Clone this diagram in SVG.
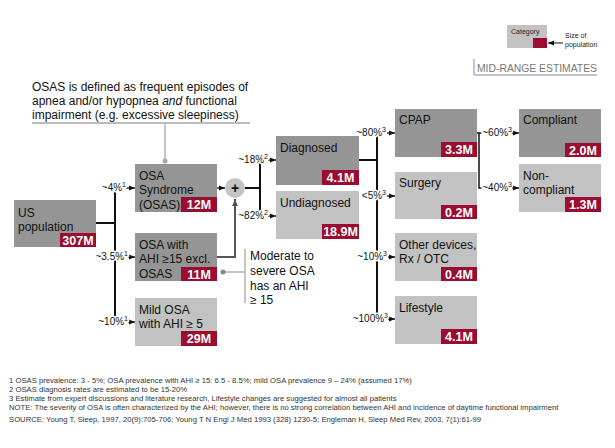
<svg xmlns="http://www.w3.org/2000/svg" width="615" height="448" viewBox="0 0 615 448">
<style>
text{font-family:"Liberation Sans",Arial,sans-serif;}
.dk{fill:#959595;}
.lt{fill:#c2c2c2;}
.rd{fill:#9b0c30;}
.t{font-size:12px;fill:#111;}
.n{font-size:12.5px;font-weight:bold;fill:#fff;text-anchor:middle;}
.pct{font-size:10px;fill:#111;text-anchor:end;stroke:#fff;stroke-width:3px;paint-order:stroke;stroke-linejoin:round;}
.bus{stroke:#111;stroke-width:2;fill:none;}
.arr{stroke:#111;stroke-width:1.3;fill:none;marker-end:url(#ah);}
.gl{stroke:#a6a6a6;stroke-width:1.3;fill:none;}
.fn{font-size:7.7px;fill:#333;}
.sup{font-size:7px;}
</style>
<defs>
<marker id="ah" viewBox="0 0 6 6" refX="6" refY="3" markerWidth="6" markerHeight="6" markerUnits="userSpaceOnUse" orient="auto"><path d="M0,0.5 L6,3 L0,5.5 z" fill="#111"/></marker>
<marker id="ahg" viewBox="0 0 6 6" refX="6" refY="3" markerWidth="7" markerHeight="7" markerUnits="userSpaceOnUse" orient="auto"><path d="M0,0.5 L6,3 L0,5.5 z" fill="#555"/></marker>
</defs>

<g id="legend">
<rect x="507" y="25" width="40" height="23" class="lt"/>
<rect x="533" y="38" width="14" height="10" class="rd"/>
<text x="511" y="34" font-size="7" fill="#222">Category</text>
<line x1="563" y1="43" x2="548" y2="43" stroke="#111" stroke-width="1" marker-end="url(#ah)"/>
<text x="565" y="38" font-size="7" fill="#222">Size of</text>
<text x="565" y="47" font-size="7" fill="#222">population</text>
<path d="M474,59 V75 H597" stroke="#888" stroke-width="1" fill="none"/>
<text x="477" y="72" font-size="10.5" fill="#777" textLength="120" lengthAdjust="spacingAndGlyphs">MID-RANGE ESTIMATES</text>
</g>

<g id="definition-note">
<text x="32" y="91" class="t">OSAS is defined as frequent episodes of</text>
<text x="32" y="105" class="t">apnea and/or hypopnea <tspan font-style="italic">and</tspan> functional</text>
<text x="32" y="119" class="t">impairment (e.g. excessive sleepiness)</text>
<line x1="32" y1="123" x2="250" y2="123" class="gl"/>
<line x1="165" y1="123" x2="165" y2="160" class="gl"/>
<circle cx="165" cy="161" r="2.5" fill="#a6a6a6"/>
</g>

<g id="connectors">
<line x1="96" y1="223" x2="115" y2="223" class="bus"/>
<line x1="115" y1="186" x2="115" y2="322" class="bus"/>
<line x1="126" y1="188" x2="135" y2="188" class="arr"/>
<line x1="128" y1="257" x2="135" y2="257" class="arr"/>
<line x1="128" y1="322" x2="135" y2="322" class="arr"/>
<text x="126" y="191" class="pct">~4%<tspan class="sup" dy="-4">1</tspan></text>
<text x="128" y="260" class="pct">~3.5%<tspan class="sup" dy="-4">1</tspan></text>
<text x="128" y="325" class="pct">~10%<tspan class="sup" dy="-4">1</tspan></text>
<line x1="217" y1="188" x2="225" y2="188" class="arr"/>
<path d="M217,257 H235 V199" stroke="#555" stroke-width="2" fill="none" marker-end="url(#ahg)"/>
<line x1="245" y1="188" x2="260" y2="188" class="bus"/>
<line x1="260" y1="158" x2="260" y2="216" class="bus"/>
<line x1="268" y1="160" x2="276" y2="160" class="arr"/>
<line x1="268" y1="216" x2="276" y2="216" class="arr"/>
<text x="268" y="163" class="pct">~18%<tspan class="sup" dy="-4">2</tspan></text>
<text x="268" y="219" class="pct">~82%<tspan class="sup" dy="-4">2</tspan></text>
<line x1="359" y1="160" x2="377" y2="160" class="bus"/>
<line x1="377" y1="131" x2="377" y2="319" class="bus"/>
<line x1="387" y1="133" x2="395" y2="133" class="arr"/>
<line x1="387" y1="196" x2="395" y2="196" class="arr"/>
<line x1="388" y1="257" x2="395" y2="257" class="arr"/>
<line x1="388" y1="319" x2="395" y2="319" class="arr"/>
<text x="386" y="136" class="pct">~80%<tspan class="sup" dy="-4">3</tspan></text>
<text x="386" y="199" class="pct">&lt;5%<tspan class="sup" dy="-4">3</tspan></text>
<text x="387" y="260" class="pct">~10%<tspan class="sup" dy="-4">3</tspan></text>
<text x="388" y="322" class="pct">~100%<tspan class="sup" dy="-4">3</tspan></text>
<path d="M477,133 H483 M479,133 V188 H483" stroke="#111" stroke-width="1.5" fill="none"/>
<line x1="512" y1="133" x2="519" y2="133" class="arr"/>
<line x1="512" y1="188" x2="519" y2="188" class="arr"/>
<text x="512" y="136" class="pct">~60%<tspan class="sup" dy="-4">3</tspan></text>
<text x="512" y="191" class="pct">~40%<tspan class="sup" dy="-4">3</tspan></text>
</g>

<g id="plus">
<circle cx="235" cy="188" r="10" fill="#c4c4c4"/>
<text x="235" y="193" font-size="14" font-weight="bold" fill="#111" text-anchor="middle">+</text>
</g>

<g id="us-population">
<rect x="14" y="200" width="82" height="47" class="dk"/>
<text x="18" y="217" class="t">US</text>
<text x="18" y="231" class="t">population</text>
<rect x="60" y="233" width="36" height="14" class="rd"/>
<text x="78" y="245" class="n">307M</text>
</g>

<g id="osas">
<rect x="135" y="164" width="82" height="48" class="dk"/>
<text x="139" y="180" class="t">OSA</text>
<text x="139" y="194" class="t">Syndrome</text>
<text x="139" y="209" class="t">(OSAS)</text>
<rect x="181" y="197" width="36" height="15" class="rd"/>
<text x="199" y="209" class="n">12M</text>
</g>

<g id="osa-ahi15">
<rect x="135" y="233" width="82" height="48" class="dk"/>
<text x="139" y="249" class="t">OSA with</text>
<text x="139" y="263" class="t">AHI ≥15 excl.</text>
<text x="139" y="278" class="t">OSAS</text>
<rect x="181" y="267" width="36" height="14" class="rd"/>
<text x="199" y="279" class="n">11M</text>
</g>

<g id="moderate-note">
<line x1="223" y1="272" x2="245" y2="272" class="gl"/>
<circle cx="223" cy="272" r="2.5" fill="#888"/>
<line x1="245" y1="249" x2="245" y2="303" class="gl"/>
<text x="250" y="260" class="t">Moderate to</text>
<text x="250" y="275" class="t">severe OSA</text>
<text x="250" y="290" class="t">has an AHI</text>
<text x="250" y="304" class="t">≥ 15</text>
</g>

<g id="mild-osa">
<rect x="135" y="298" width="82" height="48" class="lt"/>
<text x="139" y="314" class="t">Mild OSA</text>
<text x="139" y="328" class="t">with AHI ≥ 5</text>
<rect x="181" y="331" width="36" height="15" class="rd"/>
<text x="199" y="343" class="n">29M</text>
</g>

<g id="diagnosed">
<rect x="276" y="136" width="83" height="49" class="dk"/>
<text x="280" y="152" class="t">Diagnosed</text>
<rect x="322" y="170" width="37" height="15" class="rd"/>
<text x="340.5" y="182" class="n">4.1M</text>
</g>

<g id="undiagnosed">
<rect x="276" y="191" width="83" height="48" class="lt"/>
<text x="280" y="207" class="t">Undiagnosed</text>
<rect x="322" y="224" width="37" height="15" class="rd"/>
<text x="340.5" y="236" class="n">18.9M</text>
</g>

<g id="cpap">
<rect x="395" y="109" width="82" height="48" class="dk"/>
<text x="399" y="124" class="t">CPAP</text>
<rect x="441" y="142" width="36" height="15" class="rd"/>
<text x="459" y="154" class="n">3.3M</text>
</g>

<g id="surgery">
<rect x="395" y="172" width="82" height="47" class="lt"/>
<text x="399" y="187" class="t">Surgery</text>
<rect x="441" y="205" width="36" height="14" class="rd"/>
<text x="459" y="217" class="n">0.2M</text>
</g>

<g id="other-devices">
<rect x="395" y="233" width="82" height="48" class="lt"/>
<text x="399" y="249" class="t">Other devices,</text>
<text x="399" y="263" class="t">Rx / OTC</text>
<rect x="441" y="267" width="36" height="14" class="rd"/>
<text x="459" y="279" class="n">0.4M</text>
</g>

<g id="lifestyle">
<rect x="395" y="296" width="82" height="48" class="lt"/>
<text x="399" y="312" class="t">Lifestyle</text>
<rect x="441" y="329" width="36" height="15" class="rd"/>
<text x="459" y="341" class="n">4.1M</text>
</g>

<g id="compliant">
<rect x="519" y="109" width="82" height="48" class="dk"/>
<text x="523" y="124" class="t">Compliant</text>
<rect x="565" y="143" width="36" height="14" class="rd"/>
<text x="583" y="155" class="n">2.0M</text>
</g>

<g id="non-compliant">
<rect x="519" y="164" width="82" height="48" class="lt"/>
<text x="523" y="180" class="t">Non-</text>
<text x="523" y="194" class="t">compliant</text>
<rect x="565" y="197" width="36" height="15" class="rd"/>
<text x="583" y="209" class="n">1.3M</text>
</g>

<g id="footnotes">
<text x="9" y="383" class="fn">1 OSAS prevalence: 3 - 5%; OSA prevalence with AHI ≥ 15: 6.5 - 8.5%; mild OSA prevalence 9 – 24% (assumed 17%)</text>
<text x="9" y="392" class="fn">2 OSAS diagnosis rates are estimated to be 15-20%</text>
<text x="9" y="401" class="fn">3 Estimate from expert discussions and literature research, Lifestyle changes are suggested for almost all patients</text>
<text x="9" y="410" class="fn">NOTE: The severity of OSA is often characterized by the AHI; however, there is no strong correlation between AHI and incidence of daytime functional impairment</text>
<text x="9" y="422" class="fn">SOURCE: Young T, Sleep, 1997, 20(9):705-706; Young T N Engl J Med 1993 (328) 1230-5; Engleman H, Sleep Med Rev, 2003, 7(1):61-99</text>
</g>
</svg>
